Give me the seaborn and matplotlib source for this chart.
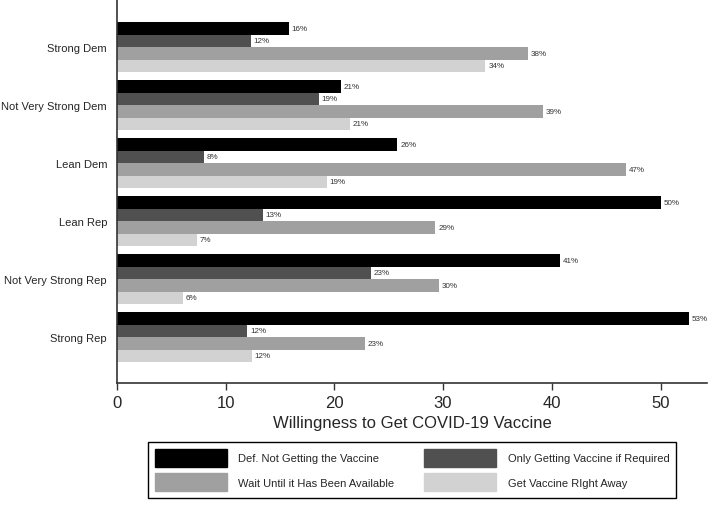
import pandas as pd
import matplotlib
matplotlib.use("Agg")
import matplotlib.pyplot as plt
import seaborn as sns

# partisanship groups (top to bottom) and the four answers
grupos = ["Strong Dem", "Not Very Strong Dem", "Lean Dem", "Lean Rep",
          "Not Very Strong Rep", "Strong Rep"]
respuestas = ["Def. Not Getting the Vaccine", "Only Getting Vaccine if Required",
              "Wait Until it Has Been Available", "Get Vaccine RIght Away"]

def_no = [15.8, 20.6, 25.8, 50.0, 40.8, 52.6]
solo_requerido = [12.3, 18.6, 8.0, 13.4, 23.4, 12.0]
esperar = [37.8, 39.2, 46.8, 29.3, 29.6, 22.8]
ya_mismo = [33.9, 21.4, 19.3, 7.4, 6.1, 12.4]

colores = ["#000000", "#505050", "#a0a0a0", "#d2d2d2"]

series = [def_no, solo_requerido, esperar, ya_mismo]
filas = []
for resp, vals in zip(respuestas, series):
    for g, v in zip(grupos, vals):
        filas.append({"grupo": g, "respuesta": resp, "valor": v})
df = pd.DataFrame(filas)

sns.set_style("white")
plt.rcParams["font.family"] = ["Liberation Sans", "DejaVu Sans"]

fig = plt.figure(figsize=(7.08, 5.06), dpi=100)
ax = fig.add_axes([0.165, 0.241, 0.834, 0.759])

sns.barplot(data=df, y="grupo", x="valor", hue="respuesta", order=grupos,
            hue_order=respuestas, palette=colores, orient="h", width=0.862,
            gap=0, saturation=1, linewidth=0, ax=ax, legend=False)

for cont, vals in zip(ax.containers, series):
    ax.bar_label(cont, labels=[f"{round(v)}%" for v in vals], padding=2,
                 fontsize=5.8, color="#333333")

ax.set_xlim(0, 54.3)
ax.set_ylim(5.793, -0.828)
ax.set_xticks([0, 10, 20, 30, 40, 50])
ax.tick_params(axis="x", length=5, width=1, labelsize=12, direction="out",
               bottom=True, color="#333333")
ax.tick_params(axis="y", length=0, labelsize=8, pad=7)
ax.set_ylabel("")
ax.set_xlabel("Willingness to Get COVID-19 Vaccine", fontsize=12, labelpad=4)
for s in ["top", "right"]:
    ax.spines[s].set_visible(False)
for s in ["left", "bottom"]:
    ax.spines[s].set_color("#333333")
    ax.spines[s].set_linewidth(1.2)

# matplotlib fills legend columns first: reorder so rows read left to right
orden = [0, 2, 1, 3]
handles = [plt.Rectangle((0, 0), 1, 1, color=colores[i]) for i in orden]
etiquetas = [respuestas[i] for i in orden]
leg = fig.legend(handles, etiquetas, ncol=2, loc="upper center",
                 bbox_to_anchor=(0.582, 0.1245),
                 fontsize=8, handlelength=6.5, handleheight=2.1,
                 labelspacing=0.6, handletextpad=1.0, columnspacing=2.7,
                 borderpad=0.6, borderaxespad=0,
                 fancybox=False, edgecolor="black", framealpha=1)
leg.get_frame().set_linewidth(1.0)

fig.savefig("out.png", dpi=100)
